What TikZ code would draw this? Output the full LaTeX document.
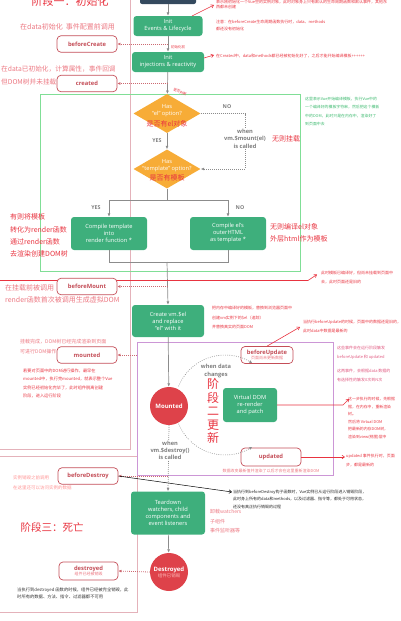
\documentclass[tikz,border=0pt]{standalone}
\usepackage{fontspec}
\setmainfont{Open Sans}
\newfontfamily\cjk{Noto Sans CJK SC}
\usetikzlibrary{arrows.meta,shapes.geometric}
\definecolor{vgreen}{RGB}{62,175,124}
\definecolor{vorange}{RGB}{247,172,55}
\definecolor{hookred}{RGB}{196,78,88}
\definecolor{annred}{RGB}{232,52,64}
\definecolor{lightred}{RGB}{236,120,130}
\definecolor{circred}{RGB}{222,66,74}
\definecolor{gline}{RGB}{140,140,140}
\definecolor{panelpink}{RGB}{228,178,186}
\definecolor{rectgreen}{RGB}{128,222,150}
\definecolor{rectpurple}{RGB}{204,150,214}
\definecolor{anngreen}{RGB}{60,185,110}
\definecolor{darkbox}{RGB}{52,73,94}
\definecolor{paletxt}{RGB}{255,185,185}
\begin{document}
\begin{tikzpicture}[x=1pt,y=-1pt,
  gbox/.style={fill=vgreen, rounded corners=3pt, text=white, font=\fontsize{5.7}{7}\selectfont, align=center, inner sep=1pt},
  hookbox/.style={draw=hookred, line width=0.7pt, fill=white, rounded corners=4pt, minimum width=60pt, minimum height=16.5pt, inner sep=0pt, align=center, font=\bfseries\fontsize{5.8}{6.5}\selectfont, text=hookred},
  flow/.style={draw=gline, line width=0.7pt, -{Latex[length=3.5pt,width=3pt]}},
  flowline/.style={draw=gline, line width=0.7pt},
  dotarr/.style={draw=hookred!85, line width=0.8pt, dash pattern=on 0.8pt off 1.2pt, -{Latex[length=3pt,width=3pt]}},
  nopath/.style={draw=gline, line width=0.7pt, dash pattern=on 0.8pt off 1.2pt, -{Latex[length=3.5pt,width=3pt]}},
  cyc/.style={draw=gline, line width=0.6pt, dash pattern=on 0.8pt off 1.4pt, -{Latex[length=3pt,width=3pt]}},
  annarrow/.style={draw=annred, line width=0.6pt, -{Straight Barb[length=2.5pt,width=3.5pt]}},
  lbl/.style={text=gline!90!black, font=\bfseries\fontsize{5.3}{6}\selectfont, inner sep=0},
  redtxt/.style={text=annred, font=\cjk\fontsize{7}{9}\selectfont, inner sep=0},
  pinktxt/.style={text=lightred, font=\cjk\fontsize{5}{6.5}\selectfont, inner sep=0, anchor=west},
  tinytxt/.style={text=annred, font=\cjk\fontsize{4}{5}\selectfont, inner sep=0, anchor=north west, align=left},
  dtext/.style={text=white, font=\fontsize{5.7}{7}\selectfont, align=center, inner sep=0},
  circnode/.style={circle, fill=circred, minimum size=38pt, inner sep=0, text=white, align=center, font=\bfseries\fontsize{6}{7}\selectfont}
]
\useasboundingbox (0,0) rectangle (400,621);
\clip (0,0) rectangle (400,621);

% panels
\draw[panelpink, line width=0.6pt] (130,-5) -- (130,449) -- (-5,449);
\draw[panelpink, line width=0.6pt] (-5,456) -- (137,456) -- (137,612) -- (-5,612);
\draw[rectgreen, line width=0.9pt] (40,94) rectangle (300,271);
\draw[rectpurple, line width=0.9pt] (137,342) rectangle (333,475);

% stage titles
\node[text=annred, font=\cjk\fontsize{11}{12}\selectfont] (s1) at (70,1) {阶段一：初始化};
\node[text=annred, font=\cjk\fontsize{10.5}{12}\selectfont] (s3) at (52,527) {阶段三：死亡};
\node[text=annred, font=\cjk\fontsize{12}{13.5}\selectfont, align=center, inner sep=0] (s2) at (213,411) {阶\\段\\二\\更\\新};

% main flow nodes
\node[fill=darkbox, rounded corners=2pt, minimum width=56pt, minimum height=16pt] (nv) at (168,-4) {};
\node[gbox, minimum width=69pt, minimum height=20pt] (ie) at (168,26) {Init\\Events \& Lifecycle};
\node[gbox, minimum width=72pt, minimum height=20pt] (ii) at (168,62) {Init\\injections \& reactivity};
\node[diamond, fill=vorange, minimum width=67pt, minimum height=39pt, inner sep=0] (d1) at (167,113.5) {};
\node[dtext] (d1t) at (167,111) {Has\\“el” option?};
\node[redtxt] (d1r) at (167,123.5) {是否有el对象};
\node[diamond, fill=vorange, minimum width=67pt, minimum height=39pt, inner sep=0] (d2) at (167,169) {};
\node[dtext] (d2t) at (167,165.5) {Has\\“template” option?};
\node[redtxt] (d2r) at (167,177.5) {是否有模板};
\node[gbox, minimum width=76pt, minimum height=33pt] (ct) at (109,233.5) {Compile template\\into\\render function *};
\node[gbox, minimum width=76pt, minimum height=33pt] (ce) at (228,233.5) {Compile el’s\\outerHTML\\as template *};
\node[gbox, minimum width=72pt, minimum height=32pt] (cv) at (168,321) {Create vm.\$el\\and replace\\“el” with it};
\node[circnode] (mt) at (169,406) {Mounted};
\node[gbox, minimum width=54pt, minimum height=34pt] (vd) at (250,405) {Virtual DOM\\re-render\\and patch};
\node[gbox, minimum width=74pt, minimum height=43pt] (td) at (168,513) {Teardown\\watchers, child\\components and\\event listeners};
\node[circnode] (ds) at (169,572) {Destroyed\\[-1pt]{\cjk\mdseries\fontsize{4.5}{5}\selectfont\color{paletxt}组件已销毁}};

% hooks
\node[hookbox] (bc) at (87,44) {beforeCreate};
\node[hookbox] (cr) at (87,83.5) {created};
\node[hookbox] (mh) at (87,355) {mounted};
\node[hookbox, minimum width=52pt, minimum height=17pt] (bu) at (267,355) {beforeUpdate\\[-1pt]{\cjk\mdseries\fontsize{4}{4.5}\selectfont\color{lightred}页面尚未更新数据}};
\node[hookbox, minimum height=18pt] (up) at (271,457) {updated};
\node[hookbox] (bd) at (88,476) {beforeDestroy};
\node[hookbox, minimum width=59pt, minimum height=18pt] (dh) at (88.5,571) {destroyed\\[-1pt]{\cjk\mdseries\fontsize{4}{4.5}\selectfont\color{lightred}组件已经被销毁}};

% flow connectors
\draw[flow] (nv) -- (ie);
\draw[flow] (ie) -- (ii);
\draw[flow] (ii) -- (d1);
\draw[flow] (d1) -- (d2);
\coordinate (sp) at (167,200);
\coordinate (mg) at (167,262);
\draw[flowline] (d2.south) -- (sp);
\draw[flow] (sp) -| (ct.north);
\draw[flow] (sp) -| (ce.north);
\draw[flowline] (ct.south) |- (mg);
\draw[flowline] (ce.south) |- (mg);
\draw[flow] (mg) -- (cv.north);
\draw[flow] (cv) -- (mt);
\draw[flow] (td) -- (ds);
\coordinate (no1) at (245,113.5);
\coordinate (no2) at (245,169);
\draw[nopath] (d1.east) -- (no1) -- (no2) -- (d2.east);
\draw[nopath] (mt.south) -- (td.north);

% cycle
\coordinate (cyA) at (178.6,386.3);
\coordinate (cyB) at (178.6,423.7);
\draw[cyc] (cyA) arc[start angle=158, end angle=57, radius=50pt];
\draw[cyc] (cyB) arc[start angle=202, end angle=303, radius=50pt];

% labels on flow
\node[lbl] (yes1) at (157,141) {YES};
\node[lbl] (no1l) at (227,107) {NO};
\node[lbl] (yes2) at (96,208) {YES};
\node[lbl] (no2l) at (240,208) {NO};
\node[fill=white, text=gline!90!black, font=\bfseries\fontsize{5.7}{7.5}\selectfont, align=center, inner sep=0.5pt] (wm) at (245,138.5) {when\\vm.\$mount(el)\\is called};
\node[redtxt, anchor=west] (wmr) at (272,138.5) {无则挂载};
\node[text=gline!90!black, font=\bfseries\fontsize{5.7}{7.5}\selectfont, align=center, inner sep=0] (wdc) at (216,371) {when data\\changes};
\node[fill=white, text=gline!90!black, font=\bfseries\fontsize{5.7}{7}\selectfont, align=center, inner sep=0.5pt] (wd) at (170,450) {when\\vm.\$destroy()\\is called};

% dotted hook arrows
\coordinate (h1) at (168,44);
\coordinate (h2) at (168,83.5);
\coordinate (h3) at (168,286.5);
\coordinate (h4) at (137,355);
\coordinate (h5) at (168,476);
\draw[dotarr] (h1) -- (bc.east);
\draw[dotarr] (h2) -- (cr.east);
\draw[dotarr] (h5) -- (bd.east);
\draw[dotarr] (h4) -- (mh.east);
\draw[dotarr] (ds.west) -- (dh.east);

% long red line behind beforeMount
\coordinate (bml) at (0,280.5);
\coordinate (bmk) at (308,280.5);
\coordinate (bmt) at (317,274.5);
\draw[annarrow] (bml) -- (bmk) -- (bmt);
\node[hookbox] (bm) at (87,286.5) {beforeMount};
\draw[dotarr] (h3) -- (bm.east);

% left annotations
\node[redtxt, anchor=west, text=lightred] (a1) at (20,27) {在data初始化\ \ 事件配置前调用};
\node[redtxt, anchor=west, text=lightred, font=\cjk\fontsize{6.7}{9}\selectfont] (a2) at (1,69) {在data已初始化，计算属性，事件回调};
\node[redtxt, anchor=west, text=lightred, font=\cjk\fontsize{6.7}{9}\selectfont] (a3) at (1,82) {但DOM树并未挂载};
\node[redtxt, anchor=west] (a4) at (10,217) {有则将模板};
\node[redtxt, anchor=west] (a5) at (10,229.5) {转化为render函数};
\node[redtxt, anchor=west] (a6) at (10,242) {通过render函数};
\node[redtxt, anchor=west] (a7) at (10,254) {去渲染创建DOM树};
\node[redtxt, anchor=west] (a8) at (270,227) {无则编译el对象};
\node[redtxt, anchor=west] (a9) at (270,238.5) {外层html作为模板};
\node[redtxt, anchor=west, text=lightred] (a10) at (5,288) {在挂载前被调用};
\node[redtxt, anchor=west, text=lightred] (a11) at (5,299.5) {render函数首次被调用生成虚拟DOM};
\node[pinktxt] (a12) at (20,342) {挂载完成，DOM树已经完成渲染到页面};
\node[pinktxt] (a13) at (20,352) {可进行DOM操作};
\node[tinytxt, font=\cjk\fontsize{4.2}{8.4}\selectfont] (a14) at (23,368.5) {若要对页面中的DOM进行操作，最早在\\mounted中，执行完mounted，就表示整个Vue\\实例已经初始化完毕了，此时组件脱离创建\\阶段，进入运行阶段};
\node[pinktxt, font=\cjk\fontsize{4.5}{6}\selectfont, text=paletxt!80!red] (a15) at (13,477.5) {实例销毁之前调用};
\node[pinktxt, font=\cjk\fontsize{4.5}{6}\selectfont, text=paletxt!80!red] (a16) at (13,487.5) {在这里还可以访问实例的数据};
\node[tinytxt, text=black!80, font=\cjk\fontsize{4.3}{7.5}\selectfont] (a17) at (17,587.5) {当执行到destroyed 函数的时候，组件已经被完全销毁，此\\时所有的数据、方法、指令、过滤器都不可用};

% small labels
\node[tinytxt, anchor=center, font=\cjk\fontsize{3.5}{4}\selectfont] (sm1) at (178,47) {初始化前};
\node[tinytxt, anchor=center, font=\cjk\fontsize{3.5}{4}\selectfont, rotate=-25] (sm2) at (180,92) {是否判断};

% right annotations
\node[tinytxt] (t1) at (216,0) {表示刚初始化一个Vue空的实例对象，此时对象身上只有默认的生命周期函数和默认事件，其他东\\西都未创建};
\node[tinytxt, font=\cjk\fontsize{4}{7}\selectfont] (t2) at (216,19.5) {注意：在beforeCreate生命周期函数执行时，data、methods\\都还没有初始化};
\node[tinytxt] (t3) at (216,54) {在Created中，data和methods都已经被初始化好了，之后才能开始编译模板++++++};
\node[tinytxt, text=anngreen, font=\cjk\fontsize{3.9}{8.5}\selectfont] (tg) at (305,96.5) {这里表示Vue开始编译模板，执行Vue中的\\一个编译好的模板字符串，然后把这个模板\\中的DOM，此时只是在内存中，渲染好了\\到页面中去};
\node[tinytxt, font=\cjk\fontsize{4}{9}\selectfont] (tbm) at (321,270.5) {此时模板已编译好，但尚未挂载到页面中\\去，此时页面还是旧的};
\node[tinytxt, font=\cjk\fontsize{4}{9.5}\selectfont] (tcv) at (212,306) {把内存中编译好的模板，替换到浏览器页面中\\创建vm实例下的\$el（追踪）\\并替换真实的页面DOM};
\node[tinytxt, font=\cjk\fontsize{4}{9}\selectfont] (tbu) at (303,320) {当执行beforeUpdate的时候，页面中的数据还是旧的，\\此时data中数据是最新的};
\node[tinytxt, text=rectpurple!60!red, font=\cjk\fontsize{4}{9}\selectfont] (tr1) at (337,346) {这些事件会在运行阶段触发\\beforeUpdate 和 updated};
\node[tinytxt, text=rectpurple!60!red, font=\cjk\fontsize{4}{9}\selectfont] (tr2) at (337,369) {这两事件，会根据data 数据的\\有选择性的触发0次到N次};
\node[tinytxt, font=\cjk\fontsize{3.9}{7.6}\selectfont] (tvd) at (348,397) {这一步执行的时候，先根据\\据，在内存中，重新渲染\\树。\\然后将 Virtual DOM\\把最新的内存DOM树，\\渲染到view(视图)层中};
\node[tinytxt, font=\cjk\fontsize{4}{9}\selectfont] (tup) at (346,453.5) {updated 事件执行时，页面\\步，都是最新的};
\node[tinytxt, text=lightred, anchor=center, font=\cjk\fontsize{4}{5}\selectfont] (tpu) at (271,471) {数据改变最新值并渲染了以后才会在这里重新渲染DOM};
\node[tinytxt, text=black!85, font=\cjk\fontsize{4}{7.5}\selectfont] (tbd) at (233,489.5) {当执行到beforeDestroy钩子函数时，Vue实例已从运行阶段进入销毁阶段，\\此时身上所有的data和methods，以及过滤器、指令等，都处于可用状态，\\还没有真正执行销毁的过程};
\node[pinktxt, font=\cjk\fontsize{5}{6}\selectfont] (ttd1) at (210,512) {卸载watchers};
\node[pinktxt, font=\cjk\fontsize{5}{6}\selectfont] (ttd2) at (210,522) {子组件};
\node[pinktxt, font=\cjk\fontsize{5}{6}\selectfont] (ttd3) at (210,531) {事件监听器等};

% annotation arrows
\coordinate (p1a) at (192,16);
\coordinate (p1b) at (214,5);
\draw[annarrow] (p1a) -- (p1b);
\coordinate (p2a) at (204,58);
\coordinate (p2b) at (214,55);
\draw[annarrow] (p2a) -- (p2b);
\coordinate (bub) at (300,327);
\draw[annarrow] (bu.north) -- (bub);
\coordinate (vdk) at (343,405);
\coordinate (vdt) at (349,399);
\draw[annarrow] (vd.east) -- (vdk) -- (vdt);
\coordinate (upt) at (345,457);
\draw[annarrow] (up.east) -- (upt);
\coordinate (bdt) at (232,492);
\draw[black, line width=0.5pt, -{Straight Barb[length=2.5pt,width=3.5pt]}] (bd.east) -- (bdt);
\end{tikzpicture}
\end{document}
